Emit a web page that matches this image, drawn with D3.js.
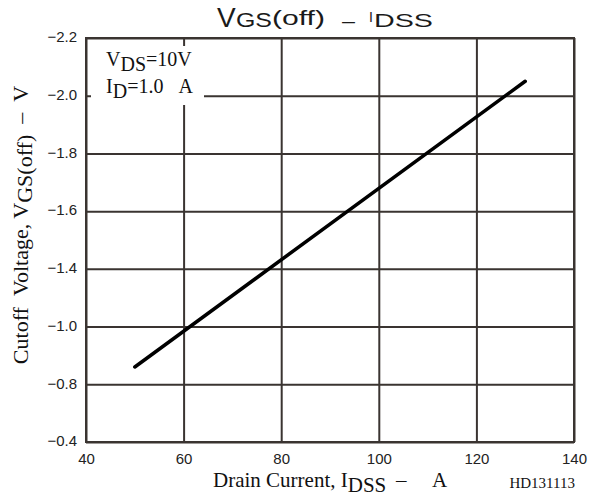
<!DOCTYPE html>
<html lang="en">
<head>
<meta charset="UTF-8">
<title>VGS(off) - IDSS</title>
<script src="https://d3js.org/d3.v7.min.js"></script>
<style>
  body { margin: 0; background: #fff; }
  svg { display: block; }
  .serif { font-family: "Liberation Serif", "Times New Roman", serif; fill: #111; }
  .sans { font-family: "Liberation Sans", Arial, sans-serif; fill: #1a1a1a; }
</style>
</head>
<body>
<svg width="595" height="497"></svg>
<script>
// x axis: drain current
const xTicks = [40, 60, 80, 100, 120, 140];
// y axis: cutoff voltage labels (evenly spaced on the original sheet)
const yTicks = [-0.4, -0.8, -1.0, -1.4, -1.6, -1.8, -2.0, -2.2];
// the characteristic line
const idss = [50, 130];
const vgs = [-0.86, -2.05];

const svg = d3.select("svg");
const margin = { top: 38, right: 21, bottom: 55, left: 86 };
const width = 595 - margin.left - margin.right;
const height = 497 - margin.top - margin.bottom;

const x = d3.scaleLinear().domain([40, 140]).range([margin.left, margin.left + width]);
// piecewise scale, every label gets the same spacing
const y = d3.scaleLinear()
    .domain(yTicks)
    .range(yTicks.map((_, i) => margin.top + height - i * height / (yTicks.length - 1)));

const gridColor = "#3a3431";
const sansFont = "Liberation Sans, Arial, sans-serif";

// grid lines + tick labels
svg.append("g")
    .attr("transform", `translate(0,${margin.top + height})`)
    .call(d3.axisBottom(x).tickValues(xTicks).tickSize(-height).tickPadding(6).tickFormat(d3.format("d")))
    .attr("font-size", 15).attr("font-family", sansFont)
    .call(g => g.select(".domain").remove())
    .call(g => g.selectAll("line").attr("stroke", gridColor).attr("stroke-width", 2))
    .call(g => g.selectAll("text").attr("fill", "#222").attr("dy", "1.07em"));

svg.append("g")
    .attr("transform", `translate(${margin.left},0)`)
    .call(d3.axisLeft(y).tickValues(yTicks).tickSize(-width).tickPadding(9)
        .tickFormat(d => d3.format(".1f")(d).replace(/[-\u2212]/, "\u2212")))
    .attr("font-size", 15).attr("font-family", sansFont)
    .call(g => g.select(".domain").remove())
    .call(g => g.selectAll("line").attr("stroke", gridColor).attr("stroke-width", 2))
    .call(g => g.selectAll("text").attr("fill", "#222").attr("dy", "0.25em"));

// frame
svg.append("rect")
    .attr("x", margin.left).attr("y", margin.top)
    .attr("width", width).attr("height", height)
    .attr("fill", "none").attr("stroke", gridColor).attr("stroke-width", 2);

// condition box
svg.append("rect")
    .attr("x", 91).attr("y", 46).attr("width", 113).attr("height", 59)
    .attr("fill", "#fff");

const cond1 = svg.append("text").attr("class", "serif").attr("x", 106).attr("y", 66).attr("font-size", 20);
cond1.append("tspan").text("V");
cond1.append("tspan").attr("dy", 5).text("DS");
cond1.append("tspan").attr("dy", -5).text("=10V");

const cond2 = svg.append("text").attr("class", "serif").attr("x", 106).attr("y", 93).attr("font-size", 20);
cond2.append("tspan").text("I");
cond2.append("tspan").attr("dy", 5).text("D");
cond2.append("tspan").attr("dy", -5).text("=1.0\u00a0\u00a0\u00a0A");

// data line
const line = d3.line().x(d => x(d[0])).y(d => y(d[1]));
svg.append("path")
    .datum(d3.zip(idss, vgs))
    .attr("d", line)
    .attr("fill", "none")
    .attr("stroke", "#000")
    .attr("stroke-width", 3.5)
    .attr("stroke-linecap", "round");

// title, pieces placed one by one
const title = svg.append("g").attr("class", "sans");
title.append("text").attr("x", 217).attr("y", 27).attr("font-size", 28).text("V");
title.append("text").attr("x", 236).attr("y", 27).attr("font-size", 20)
    .attr("textLength", 36).attr("lengthAdjust", "spacingAndGlyphs").text("GS");
title.append("text").attr("x", 272).attr("y", 25).attr("font-size", 20)
    .attr("textLength", 53).attr("lengthAdjust", "spacingAndGlyphs").text("(off)");
title.append("text").attr("x", 342).attr("y", 27).attr("font-size", 19)
    .attr("textLength", 13).attr("lengthAdjust", "spacingAndGlyphs").text("\u2013");
title.append("text").attr("x", 369).attr("y", 22).attr("font-size", 14).text("I");
title.append("text").attr("x", 374).attr("y", 27).attr("font-size", 19)
    .attr("textLength", 59).attr("lengthAdjust", "spacingAndGlyphs").text("DSS");

// x axis title
const xt = svg.append("g").attr("class", "serif").attr("font-size", 21);
xt.append("text").attr("x", 213).attr("y", 487).text("Drain Current, I")
  .append("tspan").attr("dy", 5).text("DSS");
xt.append("text").attr("x", 396).attr("y", 487).text("\u2013");
xt.append("text").attr("x", 432).attr("y", 487).text("A");

svg.append("text").attr("class", "serif")
    .attr("x", 575).attr("y", 488).attr("text-anchor", "end")
    .attr("font-size", 15).text("HD131113");

// y axis title
const yt = svg.append("text").attr("class", "serif")
    .attr("transform", "translate(28,225) rotate(-90)")
    .attr("text-anchor", "middle").attr("font-size", 22);
yt.append("tspan").text("Cutoff\u00a0\u00a0Voltage, V");
yt.append("tspan").attr("dy", 4).text("GS(off)");
yt.append("tspan").attr("dy", -4).text("\u00a0\u00a0\u2013\u00a0\u00a0V");
</script>
</body>
</html>
